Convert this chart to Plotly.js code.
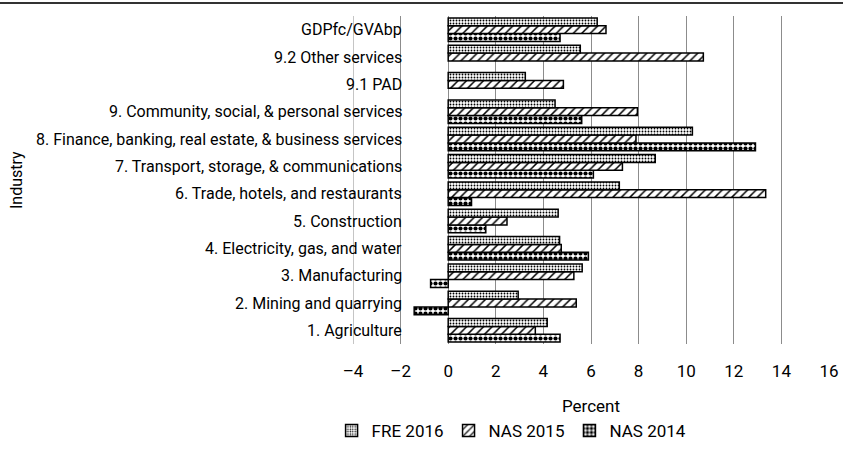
<!DOCTYPE html>
<html>
<head>
<meta charset="utf-8">
<script src="https://cdn.plot.ly/plotly-3.0.1.min.js"></script>
<style>
html,body{margin:0;padding:0;background:#fff;}
#chart{width:843px;height:461px;}
</style>
</head>
<body>
<div id="chart"></div>
<script>
// Categories bottom to top
const categories = [
  "1. Agriculture",
  "2. Mining and quarrying",
  "3. Manufacturing",
  "4. Electricity, gas, and water",
  "5. Construction",
  "6. Trade, hotels, and restaurants",
  "7. Transport, storage, & communications",
  "8. Finance, banking, real estate, & business services",
  "9. Community, social, & personal services",
  "9.1 PAD",
  "9.2 Other services",
  "GDPfc/GVAbp"
];
const fre2016 = [4.16, 2.94, 5.63, 4.68, 4.62, 7.19, 8.70, 10.26, 4.49, 3.24, 5.55, 6.26];
const nas2015 = [3.66, 5.38, 5.28, 4.75, 2.47, 13.34, 7.32, 7.89, 7.95, 4.84, 10.72, 6.63];
const nas2014 = [4.70, -1.43, -0.74, 5.89, 1.58, 0.98, 6.10, 12.91, 5.61, null, null, 4.70];
const xTicks = [-4, -2, 0, 2, 4, 6, 8, 10, 12, 14, 16];

const FONT = "Roboto, 'DejaVu Sans', sans-serif";
const FS = 16;
const FS2 = 17;
const GRID = "#8c8c8c";
const line = {color: "#000", width: 1.5};

const traces = [
  {type: "bar", orientation: "h", name: "NAS 2014", y: categories, x: nas2014,
   marker: {color: "#fff", line: line, pattern: {shape: ".", fgcolor: "#000", bgcolor: "#fff", size: 5, solidity: 0.55}}},
  {type: "bar", orientation: "h", name: "NAS 2015", y: categories, x: nas2015,
   marker: {color: "#fff", line: line, pattern: {shape: "/", fgcolor: "#000", bgcolor: "#fff", size: 6, solidity: 0.25}}},
  {type: "bar", orientation: "h", name: "FRE 2016", y: categories, x: fre2016,
   marker: {color: "#fff", line: line, pattern: {shape: ".", fgcolor: "#000", bgcolor: "#fff", size: 3, solidity: 0.3}}}
];

const annotations = categories.map(c => ({
  xref: "x", yref: "y", x: -1.85, y: c, text: c, showarrow: false,
  xanchor: "right", yanchor: "middle", font: {family: FONT, size: FS, color: "#000"}
}));
annotations.push({
  xref: "paper", yref: "paper", x: -0.708, y: 0.5, text: "Industry", showarrow: false,
  textangle: -90, xanchor: "center", yanchor: "middle", font: {family: FONT, size: FS, color: "#000"}
});

const layout = {
  width: 843, height: 461,
  margin: {l: 353, r: 14, t: 16, b: 105},
  paper_bgcolor: "#fff", plot_bgcolor: "#fff",
  font: {family: FONT, size: FS, color: "#000"},
  barmode: "group",
  bargap: 0.14, bargroupgap: 0,
  showlegend: true,
  legend: {orientation: "h", x: -0.045, xanchor: "left", y: -0.265, yanchor: "middle",
           traceorder: "reversed", font: {family: FONT, size: FS2}, itemwidth: 30},
  xaxis: {
    range: [xTicks[0], xTicks[xTicks.length - 1]], tickvals: xTicks,
    ticktext: xTicks.map(v => v < 0 ? "\u2013" + Math.abs(v) : String(v)),
    showgrid: true, gridcolor: GRID, gridwidth: 1, automargin: false,
    zeroline: false, showline: false, ticks: "outside", ticklen: 12, tickcolor: "rgba(0,0,0,0)",
    tickfont: {family: FONT, size: FS2},
    title: {text: "Percent", font: {family: FONT, size: FS2}, standoff: 19}
  },
  yaxis: {
    type: "category", showticklabels: false, automargin: false,
    showgrid: false, zeroline: false, showline: false, ticks: ""
  },
  annotations: annotations,
  shapes: [
    {type: "line", xref: "paper", yref: "paper", x0: -0.742, x1: 1.03, y0: 1.04, y1: 1.04,
     line: {color: "#333", width: 2}},
    {type: "line", xref: "x", yref: "paper", x0: xTicks[0], x1: xTicks[0], y0: 0, y1: 1,
     layer: "below", line: {color: GRID, width: 1}}
  ]
};

Plotly.newPlot("chart", traces, layout, {displayModeBar: false, staticPlot: true});
</script>
</body>
</html>
